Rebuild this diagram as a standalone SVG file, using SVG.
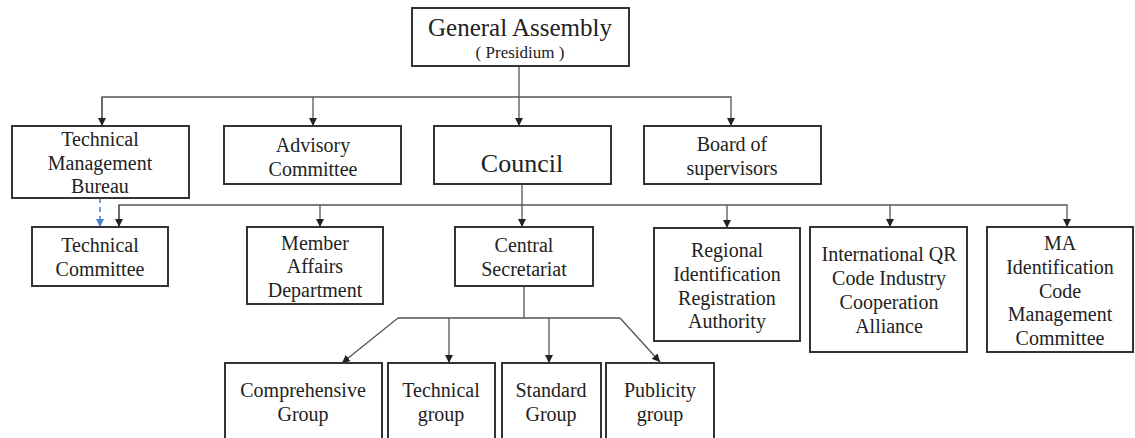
<svg xmlns="http://www.w3.org/2000/svg" width="1135" height="438" viewBox="0 0 1135 438">
<style>
.box{fill:#fff;stroke:#333;stroke-width:2}
.t{font-family:"Liberation Serif","Times New Roman",serif;font-size:20px;fill:#222;text-anchor:middle}
.c{fill:none;stroke:#555;stroke-width:1.3}
.d{fill:none;stroke:#4a7fd4;stroke-width:1.5;stroke-dasharray:5,4}
</style>
<defs>
<marker id="ah" markerWidth="8" markerHeight="8" refX="8" refY="4" orient="auto" markerUnits="userSpaceOnUse">
<path d="M0,0 L8,4 L0,8 Z" fill="#222"/>
</marker>
<marker id="ahb" markerWidth="8" markerHeight="8" refX="8" refY="4" orient="auto" markerUnits="userSpaceOnUse">
<path d="M0,0 L8,4 L0,8 Z" fill="#4a7fd4"/>
</marker>
</defs>
<g id="connectors">
<path class="c" d="M519,66 V126" marker-end="url(#ah)"/>
<path class="c" d="M102,126 V97 H731 V126" marker-end="url(#ah)"/>
<path class="c" d="M102,97 V126" marker-end="url(#ah)"/>
<path class="c" d="M313,97 V126" marker-end="url(#ah)"/>
<path class="c" d="M522,184 V227" marker-end="url(#ah)"/>
<path class="c" d="M119,227 V205 H1067 V227" marker-end="url(#ah)"/>
<path class="c" d="M119,205 V227" marker-end="url(#ah)"/>
<path class="c" d="M320,205 V227" marker-end="url(#ah)"/>
<path class="c" d="M727,205 V228" marker-end="url(#ah)"/>
<path class="c" d="M890,205 V227" marker-end="url(#ah)"/>
<path class="d" d="M100,198 V227" marker-end="url(#ahb)"/>
<path class="c" d="M524,286 V318 M398,318 H620"/>
<path class="c" d="M398,318 L342,363" marker-end="url(#ah)"/>
<path class="c" d="M620,318 L660,362" marker-end="url(#ah)"/>
<path class="c" d="M449,318 V363" marker-end="url(#ah)"/>
<path class="c" d="M549,318 V363" marker-end="url(#ah)"/>
</g>
<g id="general-assembly">
<rect class="box" x="412" y="8" width="217" height="58"/>
<text class="t" x="520" y="36" style="font-size:25px">General Assembly</text>
<text class="t" x="520" y="58" style="font-size:17px">( Presidium )</text>
</g>
<g id="tmb">
<rect class="box" x="12" y="126" width="177" height="72"/>
<text class="t" x="100" y="146">Technical</text>
<text class="t" x="100" y="170">Management</text>
<text class="t" x="100" y="193">Bureau</text>
</g>
<g id="advisory">
<rect class="box" x="224" y="126" width="177" height="58"/>
<text class="t" x="313" y="152">Advisory</text>
<text class="t" x="313" y="176">Committee</text>
</g>
<g id="council">
<rect class="box" x="434" y="126" width="177" height="58"/>
<text class="t" x="522" y="172" style="font-size:26px">Council</text>
</g>
<g id="board">
<rect class="box" x="644" y="126" width="177" height="58"/>
<text class="t" x="732" y="151">Board of</text>
<text class="t" x="732" y="175">supervisors</text>
</g>
<g id="technical-committee">
<rect class="box" x="32" y="227" width="136" height="59"/>
<text class="t" x="100" y="252">Technical</text>
<text class="t" x="100" y="276">Committee</text>
</g>
<g id="member-affairs">
<rect class="box" x="247" y="227" width="136" height="77"/>
<text class="t" x="315" y="250">Member</text>
<text class="t" x="315" y="273">Affairs</text>
<text class="t" x="315" y="297">Department</text>
</g>
<g id="central-secretariat">
<rect class="box" x="455" y="227" width="138" height="59"/>
<text class="t" x="524" y="252">Central</text>
<text class="t" x="524" y="276">Secretariat</text>
</g>
<g id="regional">
<rect class="box" x="654" y="228" width="146" height="113"/>
<text class="t" x="727" y="257">Regional</text>
<text class="t" x="727" y="281">Identification</text>
<text class="t" x="727" y="305">Registration</text>
<text class="t" x="727" y="328">Authority</text>
</g>
<g id="international-qr">
<rect class="box" x="810" y="227" width="157" height="125"/>
<text class="t" x="889" y="261">International QR</text>
<text class="t" x="889" y="285">Code Industry</text>
<text class="t" x="889" y="309">Cooperation</text>
<text class="t" x="889" y="333">Alliance</text>
</g>
<g id="ma-committee">
<rect class="box" x="987" y="227" width="146" height="125"/>
<text class="t" x="1060" y="250">MA</text>
<text class="t" x="1060" y="274">Identification</text>
<text class="t" x="1060" y="298">Code</text>
<text class="t" x="1060" y="321">Management</text>
<text class="t" x="1060" y="345">Committee</text>
</g>
<g id="comprehensive">
<rect class="box" x="225" y="363" width="157" height="85"/>
<text class="t" x="303" y="397">Comprehensive</text>
<text class="t" x="303" y="421">Group</text>
</g>
<g id="technical-group">
<rect class="box" x="388" y="363" width="107" height="85"/>
<text class="t" x="441" y="397">Technical</text>
<text class="t" x="441" y="421">group</text>
</g>
<g id="standard-group">
<rect class="box" x="502" y="363" width="99" height="85"/>
<text class="t" x="551" y="397">Standard</text>
<text class="t" x="551" y="421">Group</text>
</g>
<g id="publicity-group">
<rect class="box" x="606" y="363" width="108" height="85"/>
<text class="t" x="660" y="397">Publicity</text>
<text class="t" x="660" y="421">group</text>
</g>
</svg>
